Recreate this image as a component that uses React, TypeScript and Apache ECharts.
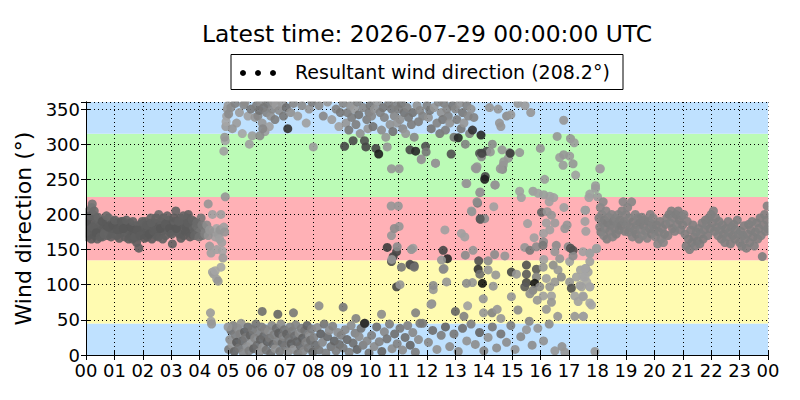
import { useEffect, useRef } from "react";
import * as echarts from "echarts";

const TITLE = "Latest time: 2026-07-29 00:00:00 UTC";
const LEGEND_LABEL = "Resultant wind direction (208.2°)";
const Y_NAME = "Wind direction (°)";
const FONT = "DejaVu Sans";

const bandEdges = [0, 45, 135, 225, 315, 360];
const bandColors = ["#bfe1ff", "#fffbb1", "#ffb1b6", "#bbfbb6", "#bfe1ff"];

// [hour, direction (deg), gray level]
const nightCluster: number[][] = [
  [0.00,175,95],[0.03,168,100],[0.05,185,90],[0.08,195,105],[0.10,205,110],[0.12,180,95],[0.15,172,100],[0.18,190,92],[0.20,210,112],[0.22,215,118],
  [0.25,200,100],[0.27,178,95],[0.30,170,92],[0.33,186,98],[0.35,195,100],[0.38,176,90],[0.40,165,98],[0.43,182,95],[0.46,190,100],[0.48,172,92],
  [0.52,185,96],[0.55,178,94],[0.58,168,100],[0.60,192,104],[0.63,180,92],[0.66,175,98],[0.70,188,96],[0.73,183,90],[0.76,170,100],[0.80,195,108],
  [0.83,178,95],[0.86,185,92],[0.90,172,97],[0.93,180,94],[0.97,190,99],[1.00,176,93],[1.04,184,96],[1.08,170,100],[1.12,188,92],[1.15,178,95],
  [1.19,182,90],[1.22,173,98],[1.26,186,95],[1.30,190,100],[1.34,175,92],[1.37,168,96],[1.40,180,94],[1.44,185,90],[1.48,172,97],[1.52,178,95],
  [1.55,188,99],[1.59,170,92],[1.63,165,100],[1.67,180,95],[1.70,175,90],[1.74,184,96],[1.78,160,92],[1.82,168,98],[1.86,152,95],[1.88,176,93],
  [1.92,186,97],[1.96,178,92],[2.00,172,96],[2.04,183,94],[2.08,190,99],[2.12,175,91],[2.16,168,97],[2.20,180,93],[2.24,186,95],[2.28,195,100],
  [2.32,165,92],[2.36,172,96],[2.40,182,94],[2.44,188,90],[2.48,170,98],[2.52,178,95],[2.56,200,108],[2.60,185,92],[2.64,190,96],[2.68,176,94],
  [2.72,195,98],[2.76,182,90],[2.80,170,95],[2.84,188,93],[2.88,178,97],[2.92,192,92],[2.96,174,96],[3.00,185,90],[3.04,158,96],[3.08,180,94],
  [3.12,190,98],[3.16,205,100],[3.20,176,92],[3.24,184,96],[3.28,172,94],[3.32,195,98],[3.36,186,90],[3.40,178,95],[3.44,170,93],[3.48,188,97],
  [3.52,182,91],[3.56,195,96],[3.60,200,94],[3.64,176,98],[3.68,185,92],[3.72,172,96],[3.76,180,100],[3.80,190,104],[3.84,176,98],[3.88,184,108],
  [3.92,172,112],[3.96,180,110],[4.00,175,115],[4.05,195,118],[4.10,170,125],[4.15,182,122],[4.20,176,130],
  [0.02,190,88],[0.07,172,92],[0.14,198,98],[0.19,165,90],[0.24,182,95],[0.29,205,108],[0.36,174,88],[0.42,196,102],[0.50,168,95],[0.57,190,90],
  [0.64,172,100],[0.72,198,105],[0.78,182,90],[0.88,168,95],[0.95,185,88],[1.02,192,98],[1.10,178,90],[1.17,166,94],[1.24,190,92],[1.32,180,88],
  [1.42,192,96],[1.50,165,92],[1.57,182,88],[1.65,190,98],[1.72,168,94],[1.80,178,90],[1.90,170,92],[1.98,190,96],[2.06,166,90],[2.14,185,94],
  [2.22,172,88],[2.30,188,96],[2.38,176,92],[2.46,195,98],[2.54,168,94],[2.62,180,88],[2.70,165,96],[2.78,186,92],[2.86,198,100],[2.94,180,88],
  [3.02,172,94],[3.10,195,92],[3.18,180,88],[3.26,190,96],[3.34,166,92],[3.42,198,98],[3.50,176,90],[3.58,188,94],[3.66,168,92],[3.74,192,98],
  [3.82,170,102],[3.90,188,106],[3.98,168,112],[4.08,185,120],[4.18,172,128],
];

const dawnTransition: number[][] = [
  [4.30,215,150],[4.35,155,155],[4.40,145,160],[4.45,118,160],[4.50,115,155],[4.55,120,165],[4.60,108,160],[4.65,105,150],[4.38,60,155],[4.40,48,160],
  [4.42,44,150],[4.50,175,150],[4.55,168,160],[4.60,180,165],[4.65,172,155],[4.70,165,160],[4.72,178,150],[4.75,200,158],[4.78,160,160],[4.80,148,165],
  [4.82,138,155],[4.85,182,160],[4.88,175,150],[4.90,225,150],[4.45,200,160],[4.25,185,140],[4.30,170,145],[4.35,178,150],[4.60,150,162],[4.75,125,165],
  [4.85,290,160],[4.90,305,165],[4.88,310,150],[4.92,325,155],[4.95,340,160],[4.97,350,150],[5.00,355,155],[4.93,332,165],[5.02,343,140],
];

const northTop: number[][] = [
  [5.10,352,140],[5.25,358,130],[5.40,345,155],[5.55,356,135],[5.70,340,160],[5.80,350,120],[5.95,338,150],[5.30,330,155],[5.50,315,165],[5.15,322,150],
  [5.60,360,140],[5.85,312,155],[5.75,300,160],
  [6.00,355,125],[6.05,340,135],[6.10,348,115],[6.15,360,140],[6.20,330,150],[6.25,352,120],[6.30,318,155],[6.35,345,130],[6.40,358,120],[6.45,325,160],
  [6.50,340,145],[6.55,350,135],[6.60,360,150],[6.65,335,125],[6.70,355,155],[6.80,348,140],[6.90,358,150],[6.95,340,120],[6.12,312,140],[6.22,322,135],
  [7.05,352,110],[7.10,322,50],[7.20,345,145],[7.30,358,135],[7.45,340,155],[7.60,355,140],[7.75,330,160],[7.85,350,150],[7.95,360,125],
  [8.00,296,155],[8.20,355,140],[8.35,340,135],[8.50,360,150],[8.65,335,155],[8.80,350,130],[8.90,325,160],[8.95,345,120],
  [9.05,358,135],[9.10,297,70],[9.15,330,150],[9.20,345,125],[9.25,320,120],[9.30,355,145],[9.35,338,125],[9.40,305,75],[9.45,350,155],[9.50,328,125],
  [9.55,360,130],[9.60,342,115],[9.65,315,145],[9.80,305,80],[9.75,352,135],[9.85,296,70],[9.88,335,125],[9.92,322,150],[9.96,345,125],
  [10.00,355,120],[10.05,340,135],[10.10,325,115],[10.15,350,145],[10.20,294,70],[10.25,360,150],[10.30,286,30],[10.35,345,130],[10.40,320,140],[10.45,352,120],
  [10.50,338,130],[10.55,310,150],[10.60,296,150],[10.65,358,125],[10.70,328,145],[10.75,350,120],[10.80,318,115],[10.85,340,135],[10.90,355,130],[10.95,330,150],
  [11.00,350,125],[11.05,335,145],[11.10,358,120],[11.15,322,135],[11.20,345,115],[11.25,315,150],[11.30,352,130],[11.35,338,120],[11.40,292,70],[11.45,328,125],
  [11.50,345,115],[11.55,310,135],[11.60,290,40],[11.65,355,145],[11.70,332,125],[11.75,348,135],[11.80,279,150],[11.85,340,130],[11.95,297,80],[11.97,289,120],
  [12.00,355,130],[12.05,338,145],[12.10,348,120],[12.15,322,115],[12.25,352,150],[12.30,273,150],[12.35,330,130],[12.40,360,135],[12.45,315,120],[12.50,345,145],
  [12.55,335,120],[12.60,358,130],[12.65,320,125],[12.70,350,135],[12.75,340,130],[12.80,330,145],[12.85,286,80],[12.90,355,120],[12.95,310,115],
  [13.00,350,135],[13.05,335,125],[13.10,309,40],[13.15,358,145],[13.20,322,120],[13.25,345,120],[13.30,330,150],[13.35,300,130],[13.40,355,130],[13.45,340,135],
  [13.50,315,125],[13.55,350,145],[13.60,320,50],[13.65,338,130],[13.70,266,150],[13.85,287,80],[13.90,313,40],[14.10,290,80],[14.05,254,70],
  [14.20,352,150],[14.50,350,150],[14.55,330,150],[14.80,340,140],[14.95,342,150],[15.20,358,150],[14.60,325,150],[15.45,355,155],[15.65,345,150],
  [16.58,311,150],[16.81,334,150],[17.05,308,150],[17.18,302,155],
];

const northBottom: number[][] = [
  [5.02,8,120],[5.06,22,140],[5.10,35,110],[5.14,15,150],[5.18,42,130],[5.22,5,100],[5.26,28,125],[5.30,18,90],[5.34,38,140],[5.38,10,115],
  [5.42,30,130],[5.46,45,145],[5.50,20,105],[5.54,3,135],[5.58,33,95],[5.62,25,120],[5.66,12,140],[5.70,40,110],[5.74,6,125],[5.78,28,100],
  [5.82,17,150],[5.86,36,120],[5.90,9,95],[5.94,24,135],[5.98,44,115],
  [6.02,14,110],[6.06,32,130],[6.10,4,140],[6.14,22,100],[6.18,40,125],[6.22,11,145],[6.26,27,105],[6.30,37,130],[6.34,7,115],[6.38,19,95],
  [6.42,34,140],[6.46,24,120],[6.50,2,110],[6.54,42,135],[6.58,15,100],[6.62,29,125],[6.66,9,145],[6.70,38,110],[6.74,20,130],[6.78,31,95],
  [6.82,5,120],[6.86,44,140],[6.90,17,105],[6.94,26,130],[6.98,36,115],
  [7.02,12,120],[7.06,30,100],[7.10,4,140],[7.14,23,115],[7.18,40,130],[7.22,16,95],[7.26,34,125],[7.30,8,145],[7.34,27,110],[7.38,43,130],
  [7.42,19,100],[7.46,2,120],[7.50,31,140],[7.54,13,105],[7.58,38,125],[7.62,24,95],[7.66,6,135],[7.70,35,115],[7.74,18,130],[7.78,42,100],
  [7.82,10,120],[7.86,28,140],[7.90,21,110],[7.94,37,125],[7.98,4,100],
  [8.02,25,130],[8.08,14,110],[8.14,39,140],[8.20,7,120],[8.26,30,95],[8.32,18,135],[8.38,44,115],[8.44,3,125],[8.50,26,105],[8.56,35,140],
  [8.62,12,115],[8.68,41,130],[8.74,20,100],[8.80,6,125],[8.86,32,140],[8.92,15,110],[8.98,28,130],
  [9.05,10,120],[9.12,36,135],[9.19,22,105],[9.26,4,125],[9.33,42,140],[9.40,17,110],[9.47,31,130],[9.54,8,100],[9.61,26,140],[9.68,38,115],
  [9.75,14,125],[9.82,45,105],[9.89,20,135],[9.96,3,115],
  [10.05,28,125],[10.14,12,140],[10.23,40,110],[10.32,19,130],[10.41,5,100],[10.50,33,135],[10.59,23,115],[10.68,44,125],[10.77,9,140],[10.86,30,110],[10.95,16,130],
  [11.05,38,120],[11.14,7,140],[11.23,25,110],[11.32,42,130],[11.41,14,100],[11.50,32,135],[11.59,4,125],
  [11.70,22,140],[11.85,45,120],[12.05,18,135],[12.20,35,110],[12.35,8,145],[12.50,28,125],[12.65,40,100],[12.80,12,140],[12.95,30,120],[13.10,5,135],
  [13.25,38,110],[13.40,20,145],[13.55,44,125],[13.70,15,140],[13.85,32,100],[14.00,6,130],[14.15,25,145],[14.30,40,120],[14.45,10,140],[14.60,30,115],
  [14.80,18,140],[14.95,42,125],[15.10,8,145],[15.30,26,135],[15.50,36,150],[15.70,14,140],[15.90,38,150],[16.10,20,145],[16.30,44,140],[16.50,6,150],
  [16.75,12,145],[16.85,4,150],[17.91,5,150],
  [5.00,40,150],[6.20,62,110],[6.75,58,100],[7.30,60,120],[8.20,70,140],[9.05,68,120],[9.50,52,130],[9.80,45,40],[10.40,58,140],[11.60,60,130],
  [11.75,45,120],[12.17,73,140],[13.00,62,100],[13.30,55,130],[13.99,60,150],[14.29,60,130],[14.60,52,150],[15.20,64,140],[15.60,48,135],[16.20,65,150],
  [16.60,55,150],[17.20,55,150],[17.50,55,150],
];

const middleScatter: number[][] = [
  [10.75,265,150],[11.02,265,150],[11.80,278,150],[12.30,273,150],[13.92,286,70],[13.92,282,140],[14.23,289,150],[14.90,288,150],
  [15.26,288,150],[14.68,270,150],[14.86,280,150],[14.66,264,140],[13.74,265,150],[13.37,244,160],[14.03,250,30],[14.39,242,140],[13.86,231,140],[16.14,250,155],
  [16.67,281,155],[16.79,270,155],[17.02,283,155],[17.14,272,150],[17.23,256,160],[18.08,265,155],[15.26,233,160],[15.73,233,155],[15.91,230,160],[15.32,224,160],
  [16.32,226,160],[16.46,224,160],[16.30,218,160],[16.82,210,160],[17.70,224,160],[17.93,237,155],[10.74,212,150],[10.99,212,150],[13.78,216,120],[13.56,205,160],
  [13.88,193,80],[14.03,194,140],[14.35,211,160],[16.03,203,100],[16.38,199,150],[16.20,188,160],[16.50,188,155],[16.85,180,150],[16.32,178,160],[15.54,187,160],
  [16.10,173,160],[15.77,167,160],[16.10,161,140],[11.02,183,150],[12.63,178,160],[13.21,173,160],[13.33,168,160],[10.75,170,150],[10.60,153,60],[10.93,147,70],
  [10.81,140,70],[10.75,133,80],[11.51,152,160],[11.42,128,90],[11.55,127,90],[12.57,149,70],[12.72,137,40],[12.51,135,150],[12.57,122,130],[13.35,142,140],
  [13.62,149,150],[13.82,134,80],[13.80,122,50],[13.86,115,110],[14.15,134,140],[14.15,121,150],[14.42,114,150],[14.38,143,140],[14.74,141,150],[14.97,118,70],
  [15.44,153,150],[15.62,149,120],[15.85,154,140],[16.08,156,120],[16.55,156,140],[16.50,147,150],[16.97,154,140],[17.14,149,80],[17.49,147,160],[17.73,144,160],
  [17.96,151,150],[15.50,128,80],[15.85,122,90],[16.11,136,160],[16.09,125,150],[16.44,128,140],[16.67,137,150],[16.61,121,150],[17.02,133,160],[17.14,141,140],
  [17.40,121,160],[17.59,123,160],[15.15,115,150],[15.50,115,90],[15.85,111,130],[16.20,109,160],[15.50,103,70],[15.79,102,20],[15.44,97,90],[15.73,92,130],
  [15.97,97,140],[16.32,97,150],[16.50,104,150],[16.73,111,140],[17.02,104,150],[17.26,111,160],[17.38,99,160],[17.49,111,165],[17.67,118,160],[17.73,97,165],
  [17.08,95,80],[15.62,87,140],[16.09,84,160],[16.38,84,160],[17.20,84,160],[17.49,84,165],[17.32,76,160],[17.73,74,165],[16.38,75,150],[15.88,78,150],
  [13.95,102,20],[13.60,103,150],[13.39,102,140],[14.33,98,150],[14.97,83,150],[13.98,80,150],[14.47,65,150],[13.43,70,160],[12.14,72,150],[12.22,93,150],
  [12.22,99,140],[12.69,104,150],[12.60,123,140],[10.93,97,70],[11.40,129,80],[10.76,136,150],[10.85,180,140],[10.95,154,140],[11.05,100,150],[11.10,125,120],
  [11.45,150,150],[11.55,125,110],[13.58,204,150],[13.76,218,140],[13.87,194,90],[13.93,287,70],[13.87,232,150],[13.40,244,150],[13.76,268,150],[14.30,300,140],
  [14.64,292,150],[14.58,265,150],[14.70,275,150],[14.40,242,150],[14.93,287,60],[15.99,294,150],[16.11,228,155],[16.23,204,150],[16.81,285,150],[16.93,185,150],
  [17.05,152,80],[17.58,206,155],[17.93,241,155],[17.73,229,160],[17.56,206,160],[17.56,190,160],[17.59,176,160],[17.97,152,160],[17.73,145,160],[17.73,133,160],
  [17.56,123,165],[17.56,111,165],[17.62,104,165],[17.73,97,165],[17.44,97,160],[17.50,83,160],[17.79,71,165],[17.50,55,160],[18.00,225,155],[18.10,265,160],
];

const eveningCluster: number[][] = [
  [18.05,195,128],[18.08,182,130],[18.10,210,135],[18.12,175,125],[18.15,200,130],[18.18,188,128],[18.20,218,138],[18.22,170,132],[18.25,192,126],[18.28,180,130],
  [18.30,205,134],[18.33,165,128],[18.36,188,124],[18.40,196,130],[18.43,176,128],[18.46,185,126],[18.50,200,132],[18.53,168,130],[18.56,190,125],[18.60,180,128],
  [18.63,195,130],[18.66,172,126],[18.70,186,128],[18.73,200,132],[18.76,178,126],[18.80,192,128],[18.83,184,124],[18.86,205,130],[18.90,218,134],[18.93,190,128],
  [18.96,176,126],[19.00,200,130],[19.03,186,128],[19.06,210,132],[19.10,175,126],[19.13,195,130],[19.16,182,128],[19.20,218,134],[19.23,168,130],[19.26,190,126],
  [19.30,178,128],[19.33,200,132],[19.36,172,126],[19.40,185,128],[19.43,195,130],[19.46,165,128],[19.50,188,126],[19.53,178,130],[19.56,196,128],[19.60,170,132],
  [19.63,184,126],[19.66,192,128],[19.70,176,130],[19.75,166,132],[19.80,190,126],[19.83,180,128],[19.86,200,130],[19.90,172,126],[19.93,186,128],[19.96,195,130],
  [20.00,178,128],[20.04,168,132],[20.08,185,126],[20.12,158,134],[20.16,175,128],[20.20,190,126],[20.24,165,132],[20.28,180,128],[20.32,160,134],[20.36,172,128],
  [20.40,186,126],[20.44,195,130],[20.48,170,128],[20.52,200,126],[20.56,188,130],[20.60,205,128],[20.64,180,126],[20.68,195,130],[20.72,176,128],[20.76,200,126],
  [20.80,186,130],[20.84,205,128],[20.88,192,126],[20.92,178,130],[20.96,198,128],[21.00,185,126],[21.04,200,130],[21.08,172,128],[21.12,155,124],[21.16,190,128],
  [21.20,165,124],[21.24,150,126],[21.28,178,128],[21.32,160,124],[21.36,185,128],[21.40,168,124],[21.44,155,126],[21.48,175,128],[21.52,162,124],[21.56,180,128],
  [21.60,158,126],[21.64,172,128],[21.68,188,126],[21.72,165,124],[21.76,178,128],[21.80,192,126],[21.84,185,128],[21.88,170,126],[21.92,195,128],[21.96,180,126],
  [22.00,200,128],[22.04,188,126],[22.08,205,128],[22.12,176,126],[22.16,195,128],[22.20,182,126],[22.24,170,128],[22.28,190,126],[22.32,178,128],[22.36,165,126],
  [22.40,185,128],[22.44,172,126],[22.48,160,128],[22.52,180,126],[22.56,168,128],[22.60,190,126],[22.64,175,128],[22.68,158,126],[22.72,182,128],[22.76,170,126],
  [22.80,186,128],[22.84,165,126],[22.88,178,128],[22.92,192,126],[22.96,172,128],[23.00,160,126],[23.04,176,128],[23.08,155,126],[23.12,170,128],[23.16,184,126],
  [23.20,165,128],[23.24,152,126],[23.28,172,128],[23.32,186,126],[23.36,160,128],[23.40,178,126],[23.44,190,128],[23.48,168,126],[23.52,155,128],[23.56,175,126],
  [23.60,188,128],[23.64,165,126],[23.68,180,128],[23.72,195,126],[23.76,170,128],[23.80,140,126],[23.84,185,128],[23.88,200,126],[23.92,176,128],[23.96,192,126],
  [23.99,180,128],[23.97,212,130],
];

const pad2 = (v: number) => String(Math.round(v) % 24).padStart(2, "0");

const GRID = { left: 86, right: 32, top: 102, bottom: 45 };
const W = 800;
const H = 400;

export default function App() {
  const ref = useRef<HTMLDivElement>(null);
  useEffect(() => {
    const chart = echarts.init(ref.current!, undefined, { renderer: "svg" });
    const points = [
      ...nightCluster,
      ...dawnTransition,
      ...northTop,
      ...northBottom,
      ...middleScatter,
      ...eveningCluster,
    ];
    const bands = bandColors.map((c, i) => [
      { yAxis: bandEdges[i], itemStyle: { color: c, opacity: 1 } },
      { yAxis: bandEdges[i + 1] },
    ]);
    const frame = {
      axisLine: { show: true, lineStyle: { color: "#000", width: 1 } },
      axisTick: { show: true, inside: true, length: 5, lineStyle: { color: "#000", width: 1 } },
      splitLine: { show: false },
      z: 10,
    };
    const gridOnly = {
      axisLine: { show: false },
      axisTick: { show: false },
      axisLabel: { show: false },
      splitLine: { show: true, lineStyle: { color: "#000", type: [1, 3], width: 1 } },
      z: 2,
    };
    const xBase = { type: "value", min: 0, max: 24, interval: 1 };
    const yBase = { type: "value", min: 0, max: 360, interval: 50 };
    const pl = GRID.left;
    const pr = W - GRID.right;
    const pt = GRID.top;
    const pb = H - GRID.bottom;
    const mask = (x: number, y: number, w: number, h: number) => ({
      type: "rect",
      z: 5,
      silent: true,
      shape: { x, y, width: w, height: h },
      style: { fill: "#fff" },
    });
    chart.setOption({
      animation: false,
      backgroundColor: "#fff",
      textStyle: { fontFamily: FONT },
      grid: { ...GRID, containLabel: false },
      xAxis: [
        {
          ...xBase,
          position: "bottom",
          ...frame,
          axisLabel: {
            formatter: (v: number) => pad2(v),
            color: "#000",
            fontSize: 18,
            lineHeight: 18,
            fontFamily: FONT,
            margin: 6,
          },
        },
        { ...xBase, position: "top", ...frame, axisLabel: { show: false } },
        { ...xBase, position: "bottom", ...gridOnly },
      ],
      yAxis: [
        {
          ...yBase,
          position: "left",
          ...frame,
          name: Y_NAME,
          nameLocation: "middle",
          nameGap: 40,
          nameTextStyle: { color: "#000", fontSize: 22, fontFamily: FONT },
          axisLabel: {
            formatter: (v: number) => (v > 355 ? "" : String(v)),
            color: "#000",
            fontSize: 18,
            lineHeight: 14,
            fontFamily: FONT,
            margin: 6,
          },
        },
        { ...yBase, position: "right", ...frame, axisLabel: { show: false } },
        { ...yBase, position: "left", ...gridOnly },
      ],
      series: [
        {
          type: "scatter",
          data: [],
          z: 1,
          silent: true,
          markArea: { silent: true, data: bands },
        },
        {
          type: "scatter",
          data: points,
          z: 3,
          symbol: "circle",
          symbolSize: 9,
          itemStyle: {
            color: (p: any) => {
              const g = p.data[2];
              return `rgb(${g},${g},${g})`;
            },
            opacity: 0.9,
          },
        },
      ],
      graphic: [
        mask(pl - 8, pt - 8, pr - pl + 16, 7.5),
        mask(pl - 8, pb + 0.5, pr - pl + 16, 5),
        mask(pl - 8, pt - 8, 7.5, pb - pt + 13),
        mask(pr + 0.5, pt - 8, 7.5, pb - pt + 13),
        {
          type: "text",
          x: 427,
          y: 34,
          style: {
            text: TITLE,
            fontSize: 23.4,
            fontFamily: FONT,
            fill: "#000",
            align: "center",
            verticalAlign: "middle",
          },
        },
        {
          type: "rect",
          shape: { x: 231, y: 54.5, width: 392, height: 35 },
          style: { fill: "#fff", stroke: "#000", lineWidth: 1 },
        },
        { type: "circle", shape: { cx: 243, cy: 73, r: 3 }, style: { fill: "#000" } },
        { type: "circle", shape: { cx: 258, cy: 73, r: 3 }, style: { fill: "#000" } },
        { type: "circle", shape: { cx: 273, cy: 73, r: 3 }, style: { fill: "#000" } },
        {
          type: "text",
          x: 295,
          y: 72,
          style: {
            text: LEGEND_LABEL,
            fontSize: 19,
            fontFamily: FONT,
            fill: "#000",
            align: "left",
            verticalAlign: "middle",
          },
        },
      ],
    });
    return () => chart.dispose();
  }, []);
  return (
    <div
      ref={ref}
      style={{ position: "fixed", left: 0, top: 0, width: W, height: H }}
    />
  );
}
